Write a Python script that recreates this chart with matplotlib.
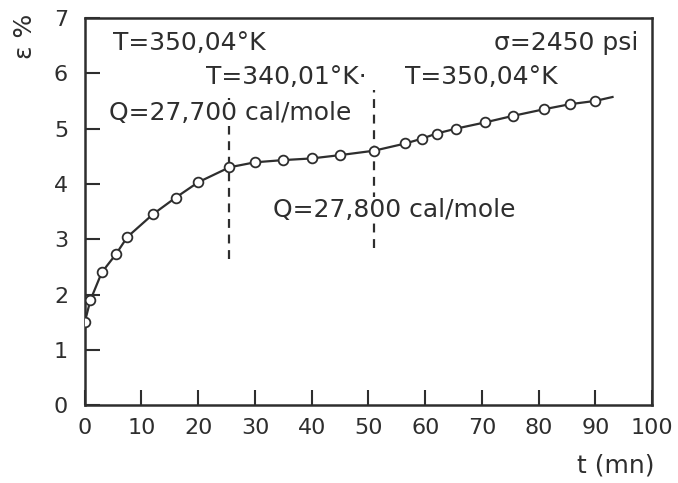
import numpy as np
import matplotlib.pyplot as plt

# creep curve: time (mn) and strain eps (%)
t = [0, 1, 3, 5.5, 7.5, 12, 16, 20, 25.5, 30, 35, 40, 45, 51,
     56.5, 59.5, 62, 65.5, 70.5, 75.5, 81, 85.5, 90]
eps = [1.5, 1.9, 2.4, 2.73, 3.04, 3.45, 3.75, 4.03, 4.30, 4.39, 4.43, 4.46, 4.52, 4.60,
       4.73, 4.82, 4.91, 5.0, 5.11, 5.23, 5.35, 5.44, 5.5]
# the drawn line runs a little past the last point
t_end = 93
eps_end = 5.57

# temperature changes (dashed markers)
t_change = [25.5, 51]
change_top = [5.55, 5.7]
change_bottom = [2.65, 2.85]

x_ticks = [0, 10, 20, 30, 40, 50, 60, 70, 80, 90, 100]
y_ticks = [0, 1, 2, 3, 4, 5, 6, 7]

ink = '#2e2e2e'
plt.rcParams['font.family'] = ['DejaVu Sans']

fig = plt.figure(figsize=(6.78, 4.83), dpi=100)
ax = fig.add_axes([0.125, 0.161, 0.837, 0.802])

ax.plot(t + [t_end], eps + [eps_end], color=ink, lw=1.6, zorder=2)
ax.plot(t, eps, 'o', ms=7, mfc='white', mec=ink, mew=1.3, zorder=3)

for x, y0, y1 in zip(t_change, change_bottom, change_top):
    ax.plot([x, x], [y0, y1], color=ink, lw=1.6, ls=(0, (4, 3)), zorder=1)

fs = 18
ax.text(4.9, 6.55, 'T=350,04°K', fontsize=fs, color=ink, va='center', ha='left')
ax.text(97.5, 6.55, 'σ=2450 psi', fontsize=fs, color=ink, va='center', ha='right')
ax.text(21.3, 5.93, 'T=340,01°K·', fontsize=fs, color=ink, va='center', ha='left')
ax.text(56.5, 5.93, 'T=350,04°K', fontsize=fs, color=ink, va='center', ha='left')
ax.text(4.2, 5.28, 'Q=27,700 cal/mole', fontsize=fs, color=ink, va='center', ha='left',
        bbox=dict(fc='white', ec='none', pad=0.5))
ax.text(33.1, 3.53, 'Q=27,800 cal/mole', fontsize=fs, color=ink, va='center', ha='left',
        bbox=dict(fc='white', ec='none', pad=0.5))

ax.set_xlim(0, 100)
ax.set_ylim(0, 7)
ax.set_xticks(x_ticks)
ax.set_yticks(y_ticks)
ax.tick_params(direction='in', length=11, width=1.5, colors=ink, labelsize=16)
ax.tick_params(axis='y', pad=12)
ax.tick_params(axis='x', pad=9)
for s in ax.spines.values():
    s.set_linewidth(1.8)
    s.set_color(ink)

fig.text(0.037, 0.925, 'ε %', rotation=90, fontsize=18, color=ink, ha='center', va='center')
fig.text(0.966, 0.037, 't (mn)', fontsize=18, color=ink, ha='right', va='center')

fig.savefig('out.png', dpi=100)
